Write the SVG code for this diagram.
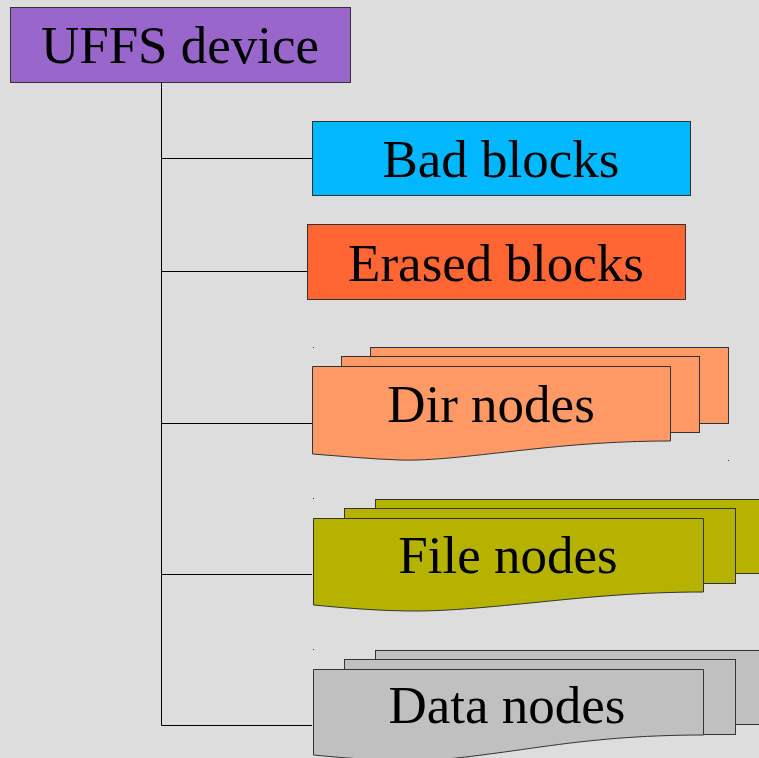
<svg xmlns="http://www.w3.org/2000/svg" width="759" height="758" viewBox="0 0 759 758">
<style>
.bx{stroke:#333;stroke-width:1}
.t{font-family:"Liberation Serif","Times New Roman",serif;font-size:53px;fill:#000;text-anchor:middle}
.c{stroke:#000;stroke-width:1;fill:none}
.dot{fill:#333}
</style>
<rect width="759" height="758" fill="#dddddd"/>
<g id="connectors">
<path class="c" d="M161.5,82 V725.5 M161.5,158.5 H312 M161.5,271.5 H307 M161.5,423.5 H312 M161.5,574.5 H312 M161.5,725.5 H312"/>
</g>
<g id="uffs">
<rect class="bx" x="10.5" y="7.5" width="340" height="75" fill="#9966cc"/>
<text class="t" x="180" y="63">UFFS device</text>
</g>
<g id="bad">
<rect class="bx" x="312.5" y="121.5" width="378" height="74" fill="#00b8ff"/>
<text class="t" x="501" y="177">Bad blocks</text>
</g>
<g id="erased">
<rect class="bx" x="307.5" y="224.5" width="378" height="75" fill="#ff6633"/>
<text class="t" x="496" y="281">Erased blocks</text>
</g>
<g id="dir">
<rect class="dot" x="313" y="347" width="1" height="1"/>
<rect class="dot" x="728" y="460" width="1" height="1"/>
<rect class="bx" x="370.5" y="347.5" width="358" height="76" fill="#ff9966"/>
<rect class="bx" x="341.5" y="356.5" width="358" height="76" fill="#ff9966"/>
<path class="bx" fill="#ff9966" d="M312.5,366.5 H670.5 V441 C610,441 560,446 515,451 C470,456 430,461 400,460 C370,459 340,456 312.5,454 Z"/>
<text class="t" x="491" y="422">Dir nodes</text>
</g>
<g id="file">
<rect class="dot" x="313" y="498" width="1" height="1"/>
<rect class="bx" x="375.5" y="499.5" width="400" height="74" fill="#b5b300"/>
<rect class="bx" x="344.5" y="508.5" width="391" height="75" fill="#b5b300"/>
<path class="bx" fill="#b5b300" d="M313.5,518.5 H703.5 V592 C640,592 590,597 540,602 C490,607 450,611 415,611 C380,611 345,608 313.5,605 Z"/>
<text class="t" x="508" y="573">File nodes</text>
</g>
<g id="data">
<rect class="dot" x="313" y="649" width="1" height="1"/>
<rect class="bx" x="375.5" y="650.5" width="400" height="74" fill="#c0c0c0"/>
<rect class="bx" x="344.5" y="659.5" width="391" height="75" fill="#c0c0c0"/>
<path class="bx" fill="#c0c0c0" d="M313.5,669.5 H703.5 V735 C640,735 590,740 540,747 C490,754 450,760 415,761 C380,761 345,758 313.5,755 Z"/>
<text class="t" x="507" y="723">Data nodes</text>
</g>
</svg>
